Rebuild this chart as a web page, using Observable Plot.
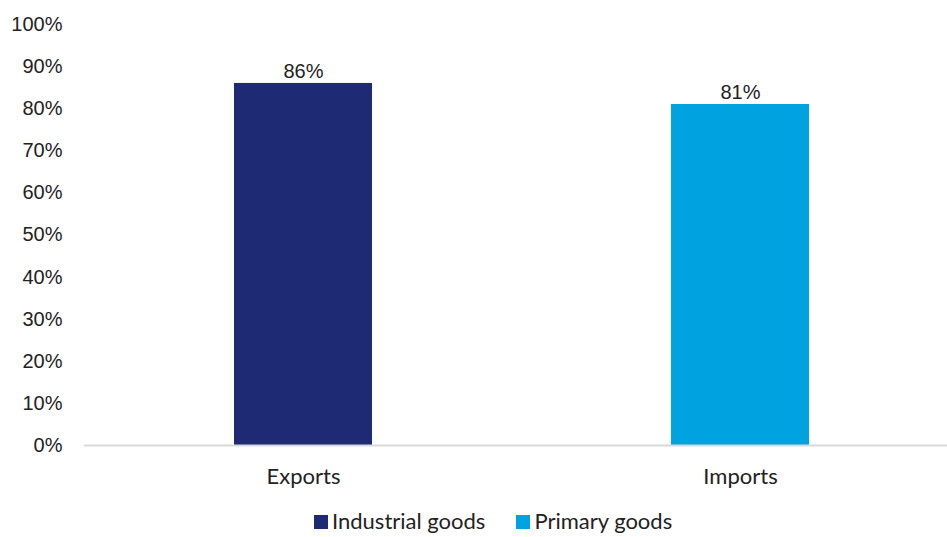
<!DOCTYPE html>
<html>
<head>
<meta charset="utf-8">
<script src="https://cdn.jsdelivr.net/npm/d3@7"></script>
<script src="https://cdn.jsdelivr.net/npm/@observablehq/plot@0.6"></script>
<style>
  html, body { margin: 0; padding: 0; background: #fff; overflow: hidden; width: 947px; height: 537px; }
  #chart { position: relative; width: 947px; height: 537px; overflow: hidden; }
  #chart svg { max-width: none !important; }
  .legend { position: absolute; top: 508px; left: 314px; display: flex; align-items: center; font-family: "Lato", "Noto Sans", sans-serif; font-size: 22px; line-height: 26px; color: #222; white-space: nowrap; }
  .legend .item { display: flex; align-items: center; margin-right: 31px; }
  .legend .sw { width: 14px; height: 14px; margin-right: 4px; margin-top: 2px; }
</style>
</head>
<body>
<div id="chart"></div>
<script>
const categories = ["Exports", "Imports"];
const series = ["Industrial goods", "Primary goods"];
const values = [0.86, 0.81];
const colors = ["#1f2a74", "#00a3e0"];
const yTicks = [0, 0.1, 0.2, 0.3, 0.4, 0.5, 0.6, 0.7, 0.8, 0.9, 1.0];

const data = categories.map((c, i) => ({category: c, series: series[i], value: values[i]}));

const plot = Plot.plot({
  width: 959,
  height: 500,
  marginLeft: 84,
  marginRight: 0,
  marginTop: 24,
  marginBottom: 55,
  style: {fontFamily: "Liberation Sans, Arial, sans-serif", fontSize: "20px", color: "#222", background: "#fff", maxWidth: "none"},
  x: {domain: categories, paddingInner: 0.684, paddingOuter: 0.343, label: null},
  y: {domain: [0, 1], label: null},
  color: {domain: series, range: colors},
  marks: [
    Plot.axisY({ticks: yTicks, tickFormat: d => Math.round(d * 100) + "%", tickSize: 0, tickPadding: 22, fontSize: 20, label: null}),
    Plot.axisX({tickSize: 0, tickPadding: 23, fontSize: 22, fontFamily: "Lato, Noto Sans, sans-serif", label: null}),
    Plot.barY(data, {x: "category", y: "value", fill: "series"}),
    Plot.ruleY([0], {stroke: "#d9d9d9", strokeWidth: 2}),
    Plot.text(data, {x: "category", y: "value", text: d => Math.round(d.value * 100) + "%", lineAnchor: "bottom", dy: -5, fontSize: 20, fill: "#222"})
  ]
});

const chart = document.getElementById("chart");
chart.appendChild(plot);

const legend = document.createElement("div");
legend.className = "legend";
series.forEach((s, i) => {
  const item = document.createElement("div");
  item.className = "item";
  const sw = document.createElement("span");
  sw.className = "sw";
  sw.style.background = colors[i];
  const t = document.createElement("span");
  t.textContent = s;
  item.appendChild(sw);
  item.appendChild(t);
  legend.appendChild(item);
});
chart.appendChild(legend);
</script>
</body>
</html>
